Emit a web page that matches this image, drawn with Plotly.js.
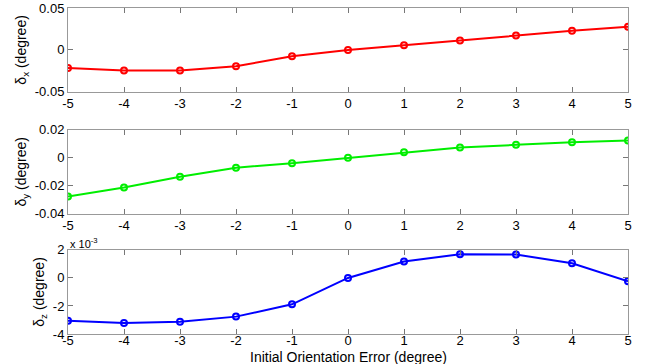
<!DOCTYPE html>
<html><head><meta charset="utf-8">
<script src="https://cdn.plot.ly/plotly-3.0.1.min.js"></script>
<style>html,body{margin:0;padding:0;background:#fff}#c{width:651px;height:364px}</style>
</head><body><div id="c"></div>
<script>
const errors = [-5,-4,-3,-2,-1,0,1,2,3,4,5];
const deltaX = [-0.0216,-0.0245,-0.0245,-0.0196,-0.0076,0,0.0055,0.0112,0.0172,0.0228,0.0276];
const deltaY = [-0.0276,-0.0212,-0.0136,-0.0071,-0.0038,0,0.0040,0.0074,0.0093,0.0112,0.0124];
const deltaZe3 = [-3.05,-3.21,-3.12,-2.76,-1.88,0,1.17,1.69,1.67,1.05,-0.24]; // units of 1e-3 degree
const xTicks = [-5,-4,-3,-2,-1,0,1,2,3,4,5];
const yTicks1 = [-0.05,0,0.05], yText1 = ['-0.05','0','0.05'];
const yTicks2 = [-0.04,-0.02,0,0.02], yText2 = ['-0.04','-0.02','0','0.02'];
const yTicks3 = [-4,-2,0,2], yText3 = ['-4','-2','0','2'];
const xTitle = 'Initial Orientation Error (degree)';

const font = {family:'Liberation Sans, Arial, sans-serif', size:13, color:'#000'};
function tr(y, color, xa, ya){
  return {x:errors, y:y, xaxis:xa, yaxis:ya, mode:'lines+markers', type:'scatter',
    line:{color:color, width:2}, marker:{symbol:'circle-open', size:6, color:color, line:{width:2, color:color}},
    showlegend:false, hoverinfo:'skip'};
}
function xax(anchor, so){
  return {anchor:anchor, range:[-5,5], tickvals:xTicks, ticktext:xTicks.map(String), ticks:'inside', ticklen:5,
    tickcolor:'#777', showline:true, linecolor:'#999', linewidth:1, mirror:'ticks', showgrid:false, zeroline:false,
    tickfont:font, ticklabelstandoff:so, domain:[0,1]};
}
function yax(anchor, dom, range, tv, tt, title){
  return {anchor:anchor, domain:dom, range:range, tickvals:tv, ticktext:tt, ticks:'inside', ticklen:5,
    tickcolor:'#777', showline:true, linecolor:'#999', linewidth:1, mirror:'ticks', showgrid:false, zeroline:false,
    tickfont:font, title:{text:title, font:{family:font.family, size:14, color:'#000'}, standoff:4}};
}
const data = [tr(deltaX,'#ff0000','x','y'), tr(deltaY,'#00ee00','x2','y2'), tr(deltaZe3,'#0000ff','x3','y3')];
const layout = {
  width:651, height:364, margin:{l:68, r:23, t:8, b:30}, paper_bgcolor:'#fff', plot_bgcolor:'#fff', font:font,
  xaxis:xax('y',0), xaxis2:xax('y2',0), xaxis3:xax('y3',-6),
  yaxis: yax('x',[0.743,1],[-0.05,0.05],yTicks1,yText1,'δ<sub>x</sub> (degree)'),
  yaxis2: yax('x2',[0.369,0.626],[-0.04,0.02],yTicks2,yText2,'δ<sub>y</sub> (degree)'),
  yaxis3: yax('x3',[0,0.258],[-4,2],yTicks3,yText3,'δ<sub>z</sub> (degree)'),
  annotations:[
    {xref:'paper', yref:'paper', x:0, y:0.258, xanchor:'left', yanchor:'bottom', showarrow:false,
     text:'x 10<sup>-3</sup>', font:{family:font.family, size:11, color:'#000'}, yshift:-2},
    {xref:'paper', yref:'paper', x:0.5, y:0, xanchor:'center', yanchor:'top', showarrow:false,
     text:xTitle, font:{family:font.family, size:14, color:'#000'}, yshift:-13}
  ]
};
Plotly.newPlot('c', data, layout, {staticPlot:true});
</script></body></html>
